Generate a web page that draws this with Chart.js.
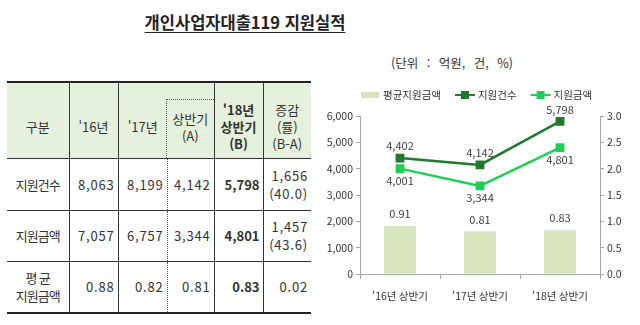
<!DOCTYPE html>
<html lang="ko">
<head>
<meta charset="utf-8">
<script src="https://cdn.jsdelivr.net/npm/chart.js@4.4.1/dist/chart.umd.min.js"></script>
<style>
  html, body { margin: 0; padding: 0; background: #fff; }
  body { width: 640px; height: 325px; position: relative; overflow: hidden;
         font-family: "Noto Sans CJK KR", "Noto Sans", sans-serif; color: #333; }
  #title { position: absolute; left: 0; width: 490px; top: 10px; text-align: center;
           font-size: 16.5px; font-weight: bold; color: #222;
           text-decoration: underline; text-underline-offset: 3px; }
  #unit { position: absolute; right: 127px; top: 53px; font-size: 12.5px; color: #333; word-spacing: 5px; }
  #tbl { position: absolute; left: 7px; top: 81px; border-collapse: collapse; table-layout: fixed;
         border-top: 2px solid #222; border-bottom: 2px solid #222; }
  #tbl td { padding: 0 3px 0 0; font-size: 13px; text-align: right; line-height: 18px;
            border-left: 1px solid #333; border-top: 1px solid #333; }
  #tbl td.first { border-left: none; text-align: center; padding: 0; letter-spacing: -1px; }
  #tbl tr.head td { background: #e6f1dd; text-align: center; padding: 12px 0 0 0; line-height: 17px;
                    border-top: none; height: 63px; }
  #tbl td.dot { border-left: 1px dotted #555; }
  #tbl tr.head td.sub { border-left: none; position: relative; }
  #tbl tr.head td.sub .box { position: absolute; left: -1px; right: 0; top: 16px; bottom: 0;
                             border-top: 1px dotted #555; border-left: 1px dotted #555; }
  #tbl .num { letter-spacing: 0.8px; }
  #tbl .b { font-weight: bold; letter-spacing: 0; }
  #chartBox { position: absolute; left: 320px; top: 80px; width: 320px; height: 245px; }
</style>
</head>
<body>
<div id="title">개인사업자대출119 지원실적</div>
<div id="unit">(단위 : 억원, 건, %)</div>
<table id="tbl">
  <colgroup>
    <col style="width:62px"><col style="width:49px"><col style="width:49px">
    <col style="width:47px"><col style="width:49px"><col style="width:48px">
  </colgroup>
  <tbody id="tblBody"></tbody>
</table>
<div id="chartBox"><canvas id="chart"></canvas></div>

<script>
// 표 데이터
const rowNames = ['지원건수', '지원금액', '평 균<br>지원금액'];
const year16 = ['8,063', '7,057', '0.88'];
const year17 = ['8,199', '6,757', '0.82'];
const half17 = ['4,142', '3,344', '0.81'];
const half18 = ['5,798', '4,801', '0.83'];
const change = ['1,656<br>(40.0)', '1,457<br>(43.6)', '0.02'];
const rowHeights = [51, 50, 50];

// 차트 데이터
const categories = ["'16년 상반기", "'17년 상반기", "'18년 상반기"];
const avgAmount = [0.91, 0.81, 0.83];
const supportCount = [4402, 4142, 5798];
const supportAmount = [4001, 3344, 4801];
const leftTicks = [0, 1000, 2000, 3000, 4000, 5000, 6000];
const rightTicks = [0.0, 0.5, 1.0, 1.5, 2.0, 2.5, 3.0];

// 표 만들기
const tbody = document.getElementById('tblBody');
tbody.innerHTML = `
  <tr class="head">
    <td class="first" style="letter-spacing:0">구분</td>
    <td>'16년</td>
    <td>'17년</td>
    <td class="sub"><div class="box"></div>상반기<br>(A)</td>
    <td style="font-weight:bold">'18년<br>상반기<br>(B)</td>
    <td>증감<br>(률)<br>(B-A)</td>
  </tr>`;
rowNames.forEach((name, i) => {
    const tr = document.createElement('tr');
    tr.innerHTML = `
        <td class="first" style="height:${rowHeights[i]}px">${name}</td>
        <td class="num">${year16[i]}</td>
        <td class="num">${year17[i]}</td>
        <td class="num dot">${half17[i]}</td>
        <td class="num b">${half18[i]}</td>
        <td class="num">${change[i]}</td>`;
    tbody.appendChild(tr);
});

// 값 라벨 그리기
const valueLabels = {
    id: 'valueLabels',
    afterDatasetsDraw(chart) {
        const ctx = chart.ctx;
        ctx.save();
        ctx.font = '11px "Noto Sans CJK KR", sans-serif';
        ctx.fillStyle = '#404040';
        ctx.textAlign = 'center';
        ctx.textBaseline = 'middle';
        chart.data.datasets.forEach((ds, i) => {
            const meta = chart.getDatasetMeta(i);
            meta.data.forEach((el, j) => {
                const v = ds.data[j];
                const text = ds.type === 'bar' ? v.toFixed(2) : v.toLocaleString('en-US');
                const dy = ds.labelBelow ? 12 : -12;
                ctx.fillText(text, el.x, el.y + dy);
            });
        });
        ctx.restore();
    }
};

// 범례 그리기
const customLegend = {
    id: 'customLegend',
    afterDraw(chart) {
        const ctx = chart.ctx;
        ctx.save();
        ctx.font = '10.5px "Noto Sans CJK KR", sans-serif';
        ctx.textBaseline = 'middle';
        ctx.fillStyle = '#333';
        let x = 41;
        const y = 15;
        chart.data.datasets.forEach(ds => {
            if (ds.type === 'bar') {
                ctx.fillStyle = ds.backgroundColor;
                ctx.fillRect(x, y - 3, 18, 6);
                x += 22;
            } else {
                ctx.strokeStyle = ds.borderColor;
                ctx.lineWidth = 2;
                ctx.beginPath();
                ctx.moveTo(x, y);
                ctx.lineTo(x + 20, y);
                ctx.stroke();
                ctx.fillStyle = ds.borderColor;
                ctx.fillRect(x + 6, y - 4, 8, 8);
                x += 23;
            }
            ctx.fillStyle = '#333';
            ctx.fillText(ds.label, x, y);
            x += ctx.measureText(ds.label).width + 14;
        });
        ctx.restore();
    }
};

const axisColor = '#a6a6a6';
const tickFont = { family: '"Noto Sans CJK KR", sans-serif', size: 10.5 };

const ctx = document.getElementById('chart').getContext('2d');
const chart = new Chart(ctx, {
    data: {
        labels: categories,
        datasets: [
            {
                type: 'bar',
                label: '평균지원금액',
                data: avgAmount,
                yAxisID: 'y1',
                backgroundColor: '#d7e4bd',
                barPercentage: 0.4,
                categoryPercentage: 1.0,
                order: 2
            },
            {
                type: 'line',
                label: '지원건수',
                data: supportCount,
                yAxisID: 'y',
                borderColor: '#1f7a30',
                backgroundColor: '#1f7a30',
                borderWidth: 2.5,
                pointStyle: 'rect',
                pointRadius: 4.5,
                pointBackgroundColor: '#1f7a30',
                order: 1
            },
            {
                type: 'line',
                label: '지원금액',
                data: supportAmount,
                yAxisID: 'y',
                borderColor: '#1fcf55',
                backgroundColor: '#1fcf55',
                borderWidth: 2.5,
                pointStyle: 'rect',
                pointRadius: 4.5,
                pointBackgroundColor: '#1fcf55',
                labelBelow: true,
                order: 1
            }
        ]
    },
    options: {
        responsive: true,
        maintainAspectRatio: false,
        animation: false,
        layout: { padding: { top: 36, left: 0, right: 0, bottom: 0 } },
        plugins: { legend: { display: false }, tooltip: { enabled: false } },
        scales: {
            x: {
                offset: true,
                grid: { offset: true, drawOnChartArea: false, tickLength: 5, color: axisColor },
                border: { color: axisColor },
                ticks: { font: tickFont, color: '#333', padding: 11 },
                afterFit(scale) { scale.height = 51; }
            },
            y: {
                position: 'left',
                min: 0,
                max: 6000,
                afterBuildTicks(scale) { scale.ticks = leftTicks.map(v => ({ value: v })); },
                grid: { drawOnChartArea: false, tickLength: 4, color: axisColor },
                border: { color: axisColor },
                ticks: { font: tickFont, color: '#333', padding: 3,
                         callback: v => v.toLocaleString('en-US') },
                afterFit(scale) { scale.width = 40; }
            },
            y1: {
                position: 'right',
                min: 0,
                max: 3,
                afterBuildTicks(scale) { scale.ticks = rightTicks.map(v => ({ value: v })); },
                grid: { drawOnChartArea: false, tickLength: 4, color: axisColor },
                border: { color: axisColor },
                ticks: { font: tickFont, color: '#333', padding: 3,
                         callback: v => v.toFixed(1) },
                afterFit(scale) { scale.width = 40; }
            }
        }
    },
    plugins: [valueLabels, customLegend]
});
</script>
</body>
</html>
